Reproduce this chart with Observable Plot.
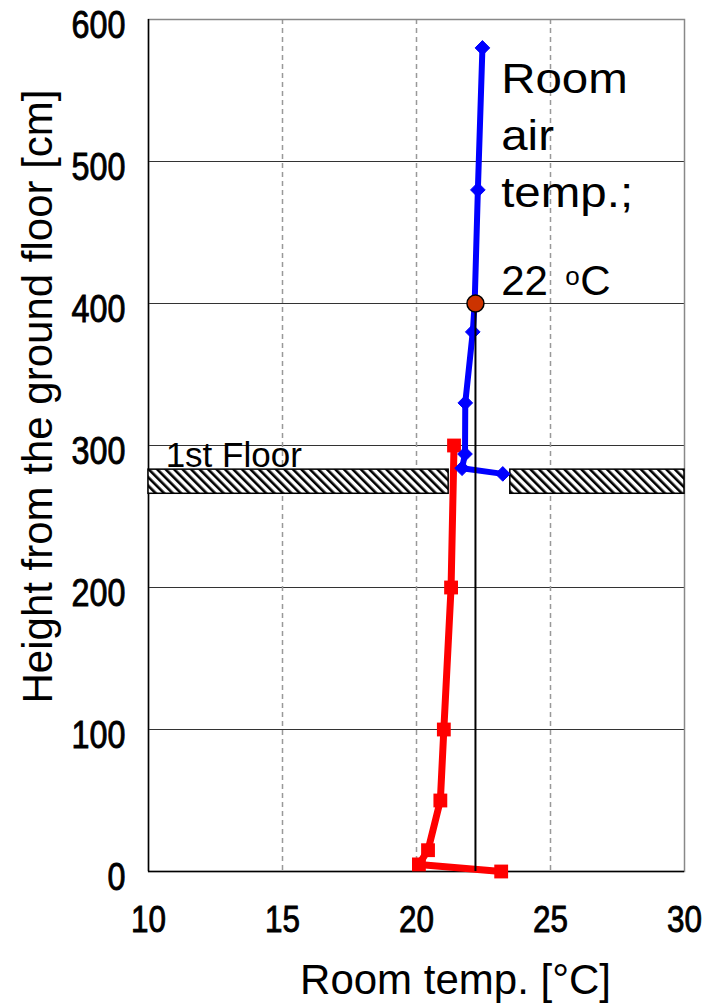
<!DOCTYPE html>
<html><head><meta charset="utf-8">
<script src="https://cdn.jsdelivr.net/npm/d3@7"></script>
<script src="https://cdn.jsdelivr.net/npm/@observablehq/plot@0.6"></script>
<style>body{margin:0;background:#fff} svg{display:block}</style>
</head><body><div id="chart"></div>
<script>
const xTicks = [10, 15, 20, 25, 30];
const yTicks = [0, 100, 200, 300, 400, 500, 600];
const gridYValues = [100, 200, 300, 400, 500];
const gridXValues = [15, 20, 25];
// blue: upper storey (diamonds)
const blueHeight = [580, 480, 400, 380, 330, 294, 284, 280];
const blueTemp = [22.46, 22.29, 22.17, 22.1, 21.82, 21.81, 21.7, 23.22];
// red: ground storey (squares)
const redHeight = [300, 200, 100, 50, 15, 5, 0];
const redTemp = [21.4, 21.29, 21.02, 20.89, 20.43, 20.09, 23.16];
// floor slab of the 1st floor
const slabStart = [10, 23.5];
const slabEnd = [21.2, 30];
const slabBottom = [266, 266];
const slabTop = [283, 283];
// room air temperature reference
const roomAirTemp = 22.2;
const roomAirHeight = 400;

const blue = blueTemp.map((t, i) => ({temp: t, height: blueHeight[i]}));
const red = redTemp.map((t, i) => ({temp: t, height: redHeight[i]}));
const slabs = slabStart.map((s, i) => ({x1: s, x2: slabEnd[i], y1: slabBottom[i], y2: slabTop[i]}));

const plot = Plot.plot({
  width: 702,
  height: 1005,
  marginLeft: 148,
  marginRight: 18,
  marginTop: 19,
  marginBottom: 134,
  style: {fontFamily: "'Liberation Sans', Arial, sans-serif", fontSize: "38px", color: "#000", background: "#fff"},
  x: {domain: [10, 30]},
  y: {domain: [0, 600]},
  marks: [
    Plot.gridY(gridYValues, {stroke: "#333", strokeOpacity: 1, strokeWidth: 1}),
    Plot.gridX(gridXValues, {stroke: "#999", strokeOpacity: 1, strokeWidth: 1.5, strokeDasharray: "5,4"}),
    Plot.frame({stroke: "#888", strokeWidth: 1.5}),
    Plot.ruleX([10], {stroke: "#000", strokeWidth: 1.5}),
    Plot.ruleY([0], {stroke: "#000", strokeWidth: 1.5}),
    Plot.rect(slabs, {x1: "x1", x2: "x2", y1: "y1", y2: "y2", fill: "url(#hatch)", stroke: "#000", strokeWidth: 1.5}),
    Plot.text(["1st Floor"], {x: 10.64, y: 285, text: d => d, textAnchor: "start", lineAnchor: "bottom", fontSize: 35, fill: "#000"}),
    Plot.line(red, {x: "temp", y: "height", stroke: "#ff0000", strokeWidth: 7, strokeLinejoin: "round"}),
    Plot.dot(red, {x: "temp", y: "height", symbol: "square", r: 7.8, fill: "#ff0000", stroke: "none"}),
    Plot.line(blue, {x: "temp", y: "height", stroke: "#0000ff", strokeWidth: 6, strokeLinejoin: "round"}),
    Plot.dot(blue, {x: "temp", y: "height", symbol: "diamond2", r: 6.6, fill: "#0000ff", stroke: "#0000ff", strokeWidth: 1}),
    Plot.ruleX([roomAirTemp], {y1: 0, y2: roomAirHeight, stroke: "#000", strokeWidth: 2}),
    Plot.dot([roomAirTemp], {x: d => d, y: () => roomAirHeight, r: 8.5, fill: "#cc3300", stroke: "#000", strokeWidth: 1.5}),
    Plot.text(["Room"], {x: 23.16, y: 548, text: d => d, textAnchor: "start", lineAnchor: "bottom", fontSize: 42, fill: "#000"}),
    Plot.text(["air"], {x: 23.16, y: 508, text: d => d, textAnchor: "start", lineAnchor: "bottom", fontSize: 42, fill: "#000"}),
    Plot.text(["temp.;"], {x: 23.16, y: 468, text: d => d, textAnchor: "start", lineAnchor: "bottom", fontSize: 42, fill: "#000"}),
    Plot.text(["22"], {x: 23.16, y: 406, text: d => d, textAnchor: "start", lineAnchor: "bottom", fontSize: 42, fill: "#000"}),
    Plot.text(["o"], {x: 23.16, y: 413, dx: 64, text: d => d, textAnchor: "start", lineAnchor: "bottom", fontSize: 26, fill: "#000"}),
    Plot.text(["C"], {x: 23.16, y: 406, dx: 79, text: d => d, textAnchor: "start", lineAnchor: "bottom", fontSize: 42, fill: "#000"}),
    Plot.axisX(xTicks, {tickSize: 0, tickPadding: 34, fontSize: 37, label: null}),
    Plot.axisY(yTicks, {tickSize: 0, tickPadding: 23, fontSize: 38, dy: 6, label: null}),
    Plot.text(["Room temp. [°C]"], {frameAnchor: "bottom", textAnchor: "middle", dx: 39, dy: 122, text: d => d, lineAnchor: "bottom", fontSize: 42, fill: "#000"}),
    Plot.text(["Height from the ground floor [cm]"], {frameAnchor: "left", textAnchor: "middle", rotate: -90, dx: -110, dy: -49, text: d => d, lineAnchor: "middle", fontSize: 42, fill: "#000"})
  ]
});

document.getElementById("chart").appendChild(plot);

const ns = "http://www.w3.org/2000/svg";
const defs = document.createElementNS(ns, "defs");
defs.innerHTML = '<pattern id="hatch" patternUnits="userSpaceOnUse" width="6" height="6" patternTransform="rotate(-45)"><rect width="6" height="6" fill="#fff"/><rect width="2.6" height="6" fill="#000"/></pattern>';
plot.insertBefore(defs, plot.firstChild);

function stretchEl(t, f) {
  const L = t.getComputedTextLength();
  t.setAttribute("textLength", L * f);
  t.setAttribute("lengthAdjust", "spacingAndGlyphs");
}
plot.querySelectorAll('g[aria-label="x-axis tick label"] text, g[aria-label="y-axis tick label"] text').forEach(t => {
  stretchEl(t, 0.85);
  t.setAttribute("stroke", "#000");
  t.setAttribute("stroke-width", "0.9");
});
const wide = new Set(["Room", "air", "temp.;"]);
plot.querySelectorAll("text").forEach(t => { if (wide.has(t.textContent)) stretchEl(t, 1.13); });
</script>
</body></html>
